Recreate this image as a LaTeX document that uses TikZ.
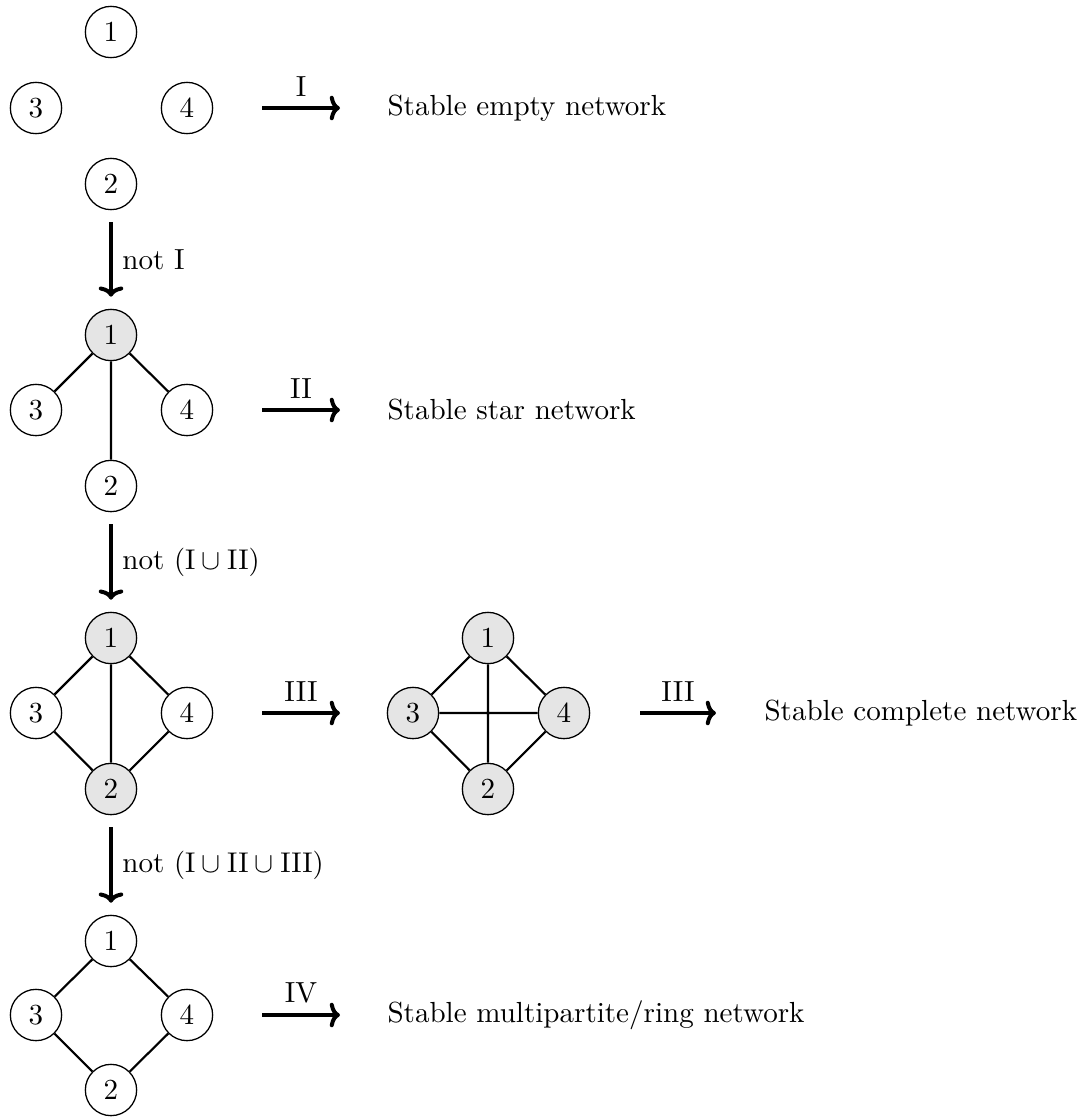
\documentclass[tikz,border=0pt]{standalone}
\usetikzlibrary{arrows.meta}
\begin{document}
\begin{tikzpicture}[x=0.3509pt,y=-0.3509pt,
  every node/.style={font=\fontsize{10.2pt}{12pt}\selectfont},
  vtx/.style={circle,draw,line width=0.45pt,minimum size=18pt,inner sep=0pt,fill=white},
  hot/.style={vtx,fill=black!10},
  lnk/.style={line width=0.75pt},
  bigarrow/.style={line width=1.4pt,-{To[length=3.6pt,width=8.6pt]}},
  varrow/.style={bigarrow,shorten <=4.2pt,shorten >=4.2pt},
  res/.style={anchor=west,inner sep=0pt}]
\useasboundingbox (0,0) rectangle (1083,1118);
% Row 1
\node[vtx] (a1) at (111,32) {1};
\node[vtx] (a3) at (36,108) {3};
\node[vtx] (a4) at (187,108) {4};
\node[vtx] (a2) at (111,184) {2};
\coordinate (aS) at (262,108);
\coordinate (aE) at (340,108);
\draw[bigarrow] (aS) -- node[above] {I} (aE);
\node[res] (ta) at (387,108) {Stable empty network};
% Row 2
\node[hot] (b1) at (111,335) {1};
\node[vtx] (b3) at (36,410) {3};
\node[vtx] (b4) at (187,410) {4};
\node[vtx] (b2) at (111,486) {2};
\draw[lnk] (b1) -- (b3) (b1) -- (b4) (b1) -- (b2);
\coordinate (bS) at (262,410);
\coordinate (bE) at (340,410);
\draw[bigarrow] (bS) -- node[above] {II} (bE);
\node[res] (tb) at (387,410) {Stable star network};
\draw[varrow] (a2) -- node[right] {not I} (b1);
% Row 3
\node[hot] (c1) at (111,638) {1};
\node[vtx] (c3) at (36,713) {3};
\node[vtx] (c4) at (187,713) {4};
\node[hot] (c2) at (111,789) {2};
\draw[lnk] (c1) -- (c3) (c1) -- (c4) (c1) -- (c2) (c3) -- (c2) (c4) -- (c2);
\draw[varrow] (b2) -- node[right] {not $(\mathrm{I}\cup\mathrm{II})$} (c1);
\coordinate (cS) at (262,713);
\coordinate (cE) at (340,713);
\draw[bigarrow] (cS) -- node[above] {III} (cE);
\node[hot] (d1) at (488,638) {1};
\node[hot] (d3) at (413,713) {3};
\node[hot] (d4) at (564,713) {4};
\node[hot] (d2) at (488,789) {2};
\draw[lnk] (d1) -- (d3) (d1) -- (d4) (d1) -- (d2) (d3) -- (d2) (d4) -- (d2) (d3) -- (d4);
\coordinate (dS) at (640,713);
\coordinate (dE) at (716,713);
\draw[bigarrow] (dS) -- node[above] {III} (dE);
\node[res] (tc) at (764,713) {Stable complete network};
% Row 4
\node[vtx] (e1) at (111,941) {1};
\node[vtx] (e3) at (36,1015) {3};
\node[vtx] (e4) at (187,1015) {4};
\node[vtx] (e2) at (111,1090) {2};
\draw[lnk] (e1) -- (e3) (e1) -- (e4) (e3) -- (e2) (e4) -- (e2);
\draw[varrow] (c2) -- node[right] {not $(\mathrm{I}\cup\mathrm{II}\cup\mathrm{III})$} (e1);
\coordinate (eS) at (262,1015);
\coordinate (eE) at (340,1015);
\draw[bigarrow] (eS) -- node[above] {IV} (eE);
\node[res] (te) at (387,1015) {Stable multipartite/ring network};
\end{tikzpicture}
\end{document}
